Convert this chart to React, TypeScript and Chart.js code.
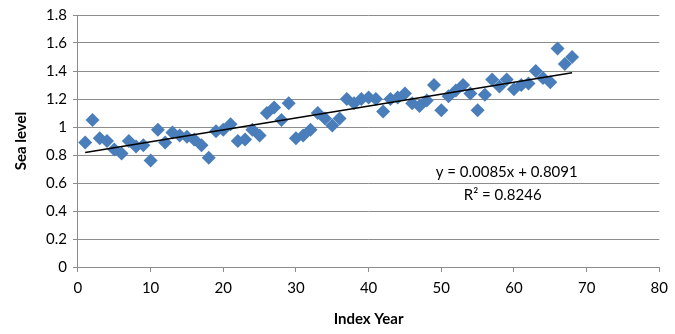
import React, { useEffect, useRef } from "react";
import { Chart, registerables } from "chart.js";

Chart.register(...registerables);

// Index years 1..68 and the observed sea level for each
const indexYears: number[] = Array.from({ length: 68 }, (_, i) => i + 1);
const seaLevel: number[] = [
  0.89, 1.05, 0.92, 0.9, 0.84, 0.81, 0.9, 0.86, 0.87, 0.76,
  0.98, 0.89, 0.96, 0.94, 0.93, 0.91, 0.87, 0.78, 0.97, 0.98,
  1.02, 0.9, 0.91, 0.98, 0.94, 1.1, 1.14, 1.05, 1.17, 0.92,
  0.94, 0.98, 1.1, 1.06, 1.01, 1.06, 1.2, 1.17, 1.2, 1.21,
  1.2, 1.11, 1.2, 1.21, 1.24, 1.17, 1.15, 1.19, 1.3, 1.12,
  1.22, 1.26, 1.3, 1.24, 1.12, 1.23, 1.34, 1.29, 1.34, 1.27,
  1.3, 1.31, 1.4, 1.35, 1.32, 1.56, 1.45, 1.5,
];

// Linear trend fitted to the series
const trendSlope = 0.0085;
const trendIntercept = 0.8091;
const rSquared = 0.8246;

const xTicks = { min: 0, max: 80, step: 10 };
const yTicks = { min: 0, max: 1.8, step: 0.2 };

const FONT = "Lato, 'Open Sans', sans-serif";

const equationPlugin = {
  id: "trendEquation",
  afterDatasetsDraw(chart: any) {
    const { ctx, scales } = chart;
    const cx = scales.x.getPixelForValue(59);
    const y1 = scales.y.getPixelForValue(0.68);
    const y2 = scales.y.getPixelForValue(0.51);
    ctx.save();
    ctx.fillStyle = "#000";
    ctx.font = `15px ${FONT}`;
    ctx.textAlign = "center";
    ctx.textBaseline = "middle";
    ctx.fillText(
      `y = ${trendSlope.toFixed(4)}x + ${trendIntercept.toFixed(4)}`,
      cx,
      y1
    );
    ctx.fillText(`R² = ${rSquared.toFixed(4)}`, cx - 4, y2);
    ctx.restore();
  },
};

export default function App() {
  const canvasRef = useRef<HTMLCanvasElement | null>(null);

  useEffect(() => {
    if (!canvasRef.current) return;
    const points = indexYears.map((x, i) => ({ x, y: seaLevel[i] }));
    const first = indexYears[0];
    const last = indexYears[indexYears.length - 1];
    const trend = [
      { x: first, y: trendSlope * first + trendIntercept },
      { x: last, y: trendSlope * last + trendIntercept },
    ];
    const tickFont = { family: FONT, size: 15 };
    const titleFont = { family: FONT, size: 15, weight: "bold" as const };

    const chart = new Chart(canvasRef.current, {
      type: "scatter",
      data: {
        datasets: [
          {
            label: "Sea level",
            data: points,
            pointStyle: "rectRot",
            pointRadius: 7,
            pointHoverRadius: 7,
            backgroundColor: "#4A7EBB",
            borderColor: "#4A7EBB",
            borderWidth: 0,
            order: 2,
          },
          {
            label: "Linear trend",
            data: trend,
            type: "line",
            showLine: true,
            borderColor: "#000",
            borderWidth: 1.5,
            pointRadius: 0,
            fill: false,
            order: 1,
          } as any,
        ],
      },
      options: {
        animation: false,
        responsive: false,
        maintainAspectRatio: false,
        layout: { padding: { top: 0, right: 12, left: 12, bottom: 6 } },
        plugins: {
          legend: { display: false },
          tooltip: { enabled: false },
        },
        scales: {
          x: {
            type: "linear",
            min: xTicks.min,
            max: xTicks.max,
            ticks: {
              stepSize: xTicks.step,
              color: "#000",
              font: tickFont,
              padding: 7,
            },
            grid: {
              drawOnChartArea: false,
              drawTicks: true,
              tickLength: 5,
              color: "#8C8C8C",
            },
            border: { color: "#8C8C8C", width: 1 },
            title: {
              display: true,
              text: "Index Year",
              color: "#000",
              font: titleFont,
              padding: { top: 6, bottom: 0 },
            },
          },
          y: {
            min: yTicks.min,
            max: yTicks.max,
            ticks: {
              stepSize: yTicks.step,
              color: "#000",
              font: tickFont,
              padding: 6,
              callback: (v: any) => String(Math.round(Number(v) * 10) / 10),
            },
            grid: {
              color: "#8C8C8C",
              drawTicks: true,
              tickLength: 5,
            },
            border: { color: "#8C8C8C", width: 1 },
            title: {
              display: true,
              text: "Sea level",
              color: "#000",
              font: titleFont,
              padding: { top: 0, bottom: 10 },
            },
          },
        },
      },
      plugins: [equationPlugin],
    });
    return () => chart.destroy();
  }, []);

  return (
    <div
      style={{
        position: "fixed",
        left: 0,
        top: 0,
        width: 675,
        height: 334,
        background: "#fff",
      }}
    >
      <canvas ref={canvasRef} width={675} height={334} />
    </div>
  );
}
